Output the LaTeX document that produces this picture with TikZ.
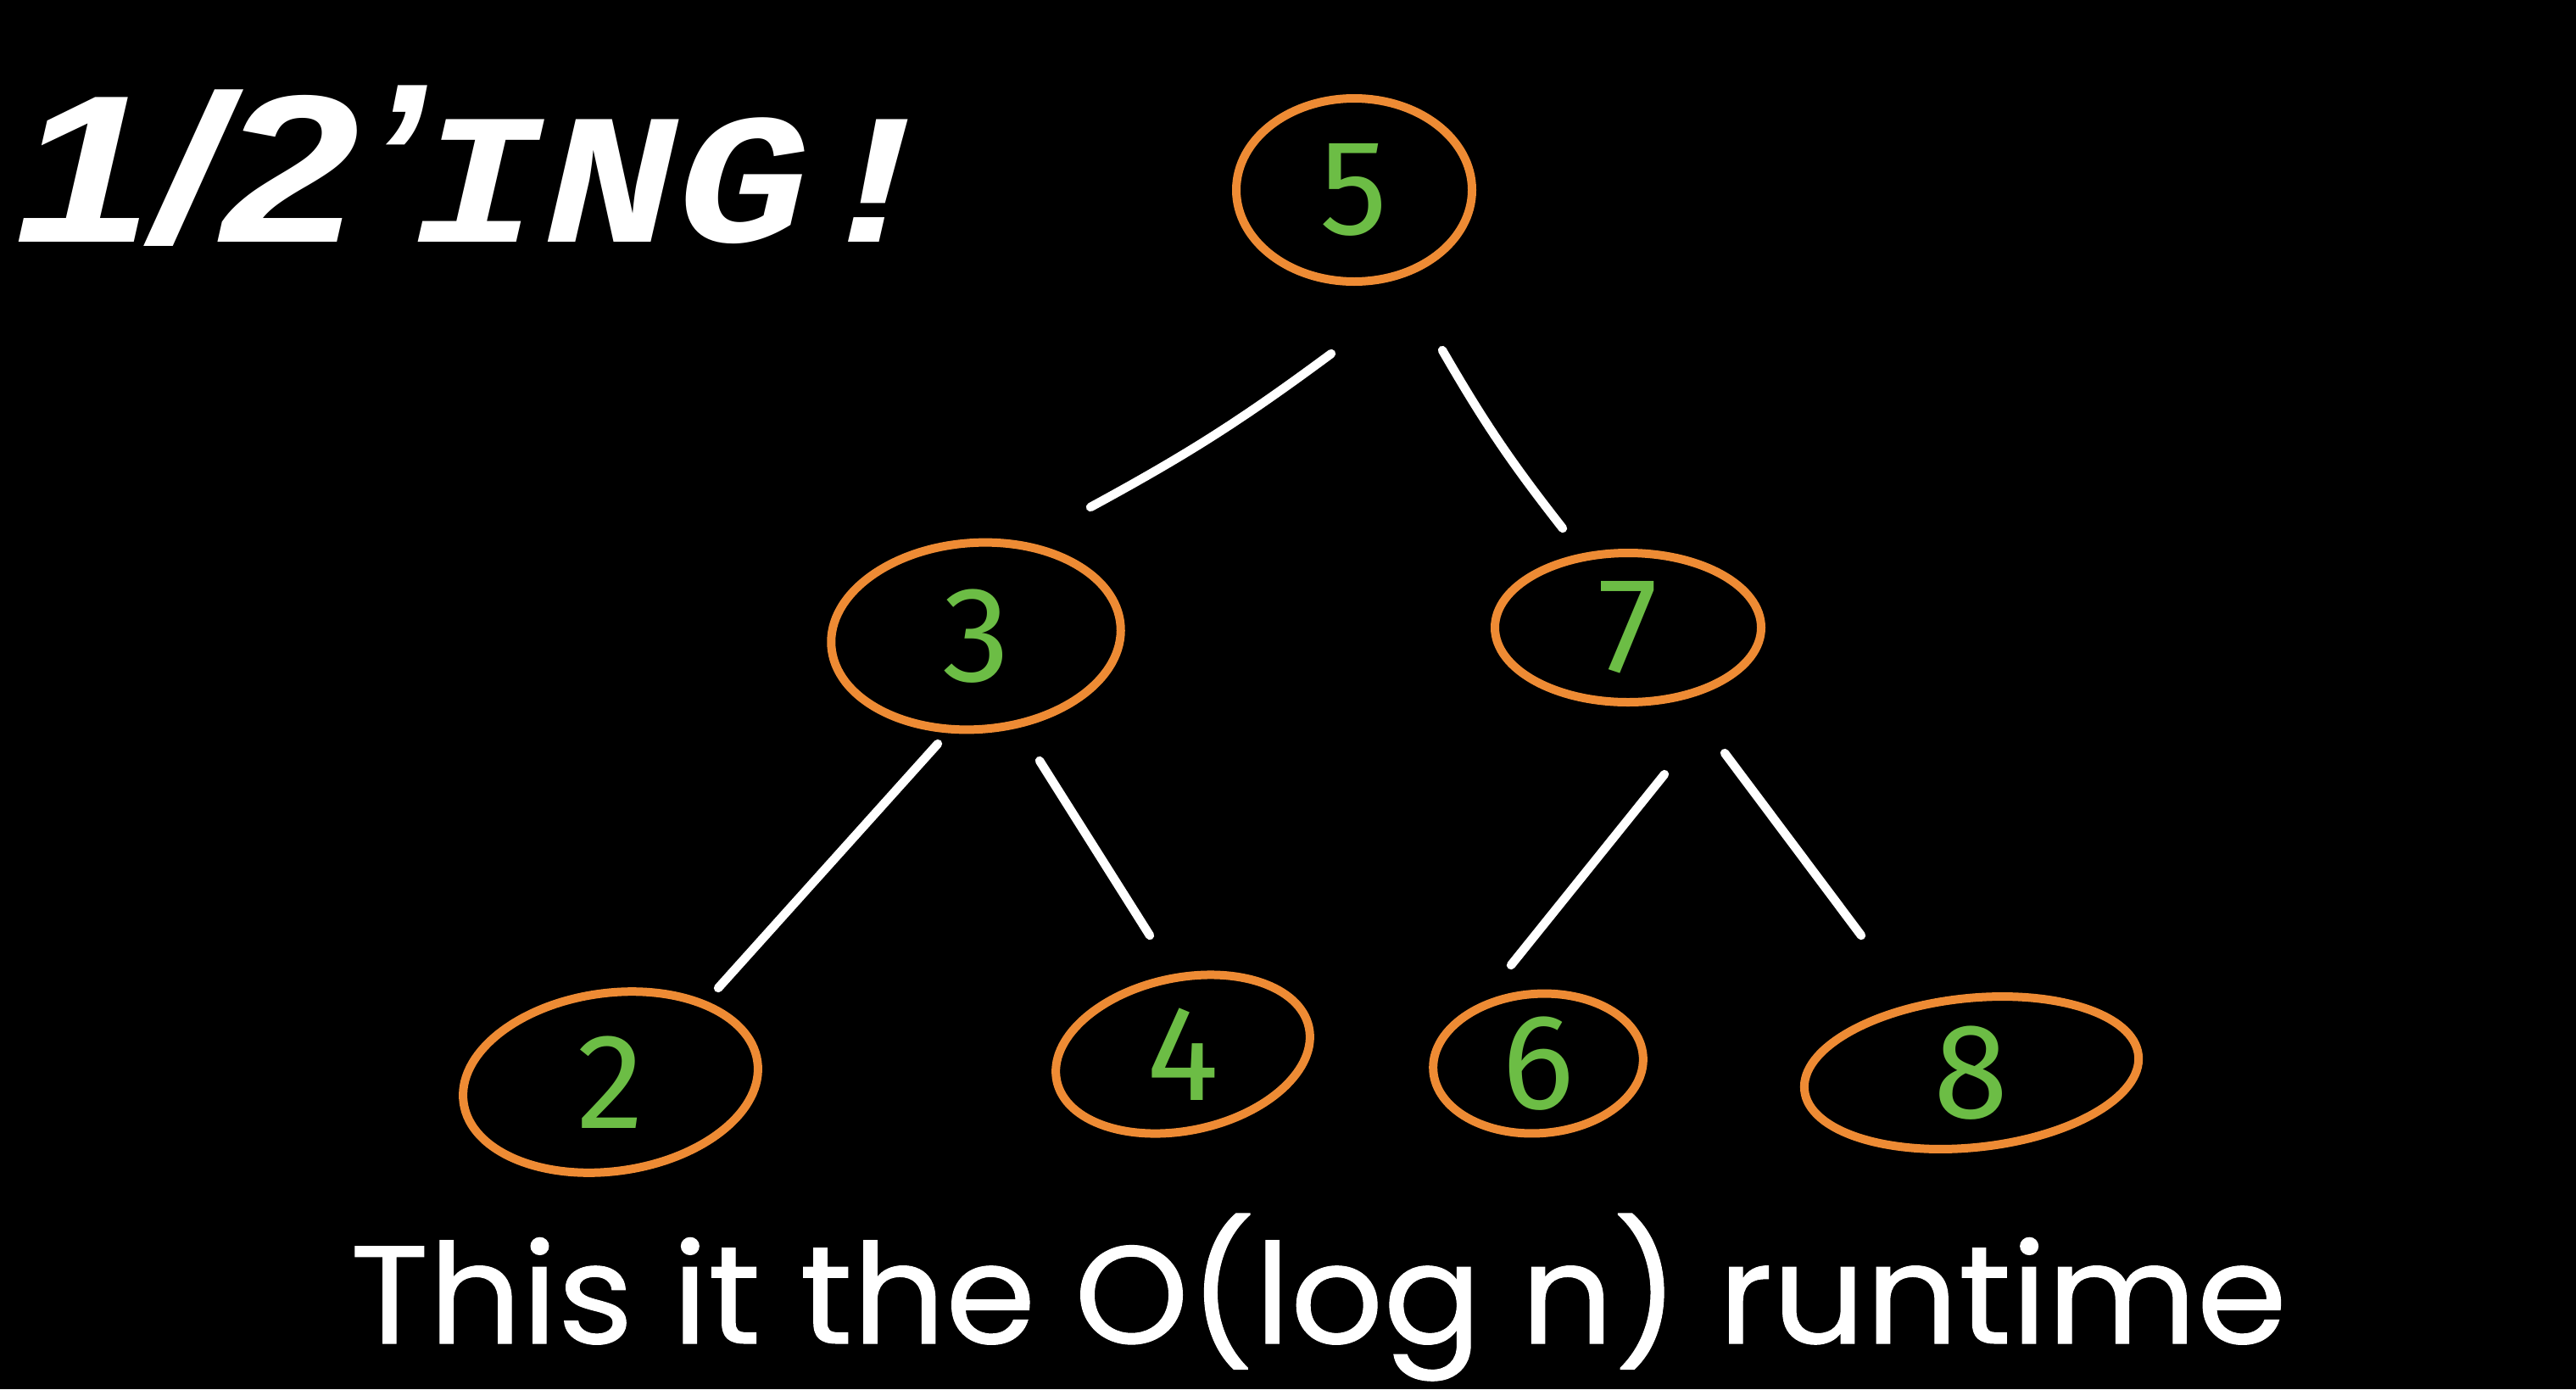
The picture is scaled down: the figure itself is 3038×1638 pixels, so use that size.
\documentclass[tikz,border=0pt]{standalone}
\usepackage{fontspec}
\setmainfont{Poppins}[Ligatures={NoCommon}, FakeBold=0.6]
\newfontfamily\digitfont{Fira Sans}
\newfontfamily\titlesans{Liberation Sans}
\newfontfamily\titlemono{Liberation Mono}
\usetikzlibrary{shapes.geometric}
\definecolor{nodeorange}{HTML}{EE8B34}
\definecolor{digitgreen}{HTML}{6CBD45}
\begin{document}
\begin{tikzpicture}[x=0.25pt,y=-0.25pt,
  treenode/.style={ellipse, draw=nodeorange, line width=2.5pt, inner sep=0pt,
    text=digitgreen, font=\digitfont\fontsize{40}{40}\selectfont},
  edge/.style={draw=white, line width=2.6pt, line cap=round},
  titletext/.style={inner sep=0pt, text=white}]
\fill[black] (0,0) rectangle (3038,1638);
\useasboundingbox (0,0) rectangle (3038,1638);

% title
\node[titletext, anchor=base west, font=\titlesans\bfseries\itshape\fontsize{62}{62}\selectfont] (half) at (17,285) {\scalebox{1.18}[1]{1/2}};
\node[titletext, anchor=north west, font=\titlesans\bfseries\itshape\fontsize{62}{62}\selectfont] (apos) at (432,100) {’};
\node[titletext, anchor=base west, font=\titlemono\bfseries\itshape\fontsize{59}{59}\selectfont] (ing) at (486,285) {\scalebox{1.1}[0.93]{ING!}};

% tree nodes
\node[treenode, minimum width=69.5pt, minimum height=54pt] (n5) at (1597,224) {5};
\node[treenode, minimum width=85.5pt, minimum height=55pt, rotate=4] (n3) at (1151,750) {\rotatebox{-4}{3}};
\node[treenode, minimum width=78.5pt, minimum height=44pt] (n7) at (1920,740) {7};
\node[treenode, minimum width=87.5pt, minimum height=52.5pt, rotate=8] (n2) at (720,1276) {\rotatebox{-8}{2}};
\node[treenode, minimum width=76pt, minimum height=45pt, rotate=12] (n4) at (1395,1243) {\rotatebox{-12}{4}};
\node[treenode, minimum width=62pt, minimum height=37pt, rotate=4] (n6) at (1814,1254) {\rotatebox{-4}{6}};
\node[treenode, minimum width=99pt, minimum height=44pt, rotate=6] (n8) at (2325,1265) {\rotatebox{-6}{8}};

% connectors
\draw[edge] ([shift={(-27,193)}]n5.center) to[bend left=4] ([shift={(135,-152)}]n3.center);
\draw[edge] ([shift={(104,189)}]n5.center) to[bend right=4] ([shift={(-77,-117)}]n7.center);
\draw[edge] ([shift={(-45,127)}]n3.center) -- ([shift={(127,-111)}]n2.center);
\draw[edge] ([shift={(75,147)}]n3.center) -- ([shift={(-39,-140)}]n4.center);
\draw[edge] ([shift={(43,173)}]n7.center) -- ([shift={(-32,-116)}]n6.center);
\draw[edge] ([shift={(114,148)}]n7.center) -- ([shift={(-130,-162)}]n8.center);

% caption
\node[text=white, inner sep=0pt, anchor=base, font=\fontsize{41}{41}\selectfont] (caption) at (1555,1584) {\scalebox{1.045}[1]{This it the O(log n) runtime}};
\end{tikzpicture}
\end{document}
